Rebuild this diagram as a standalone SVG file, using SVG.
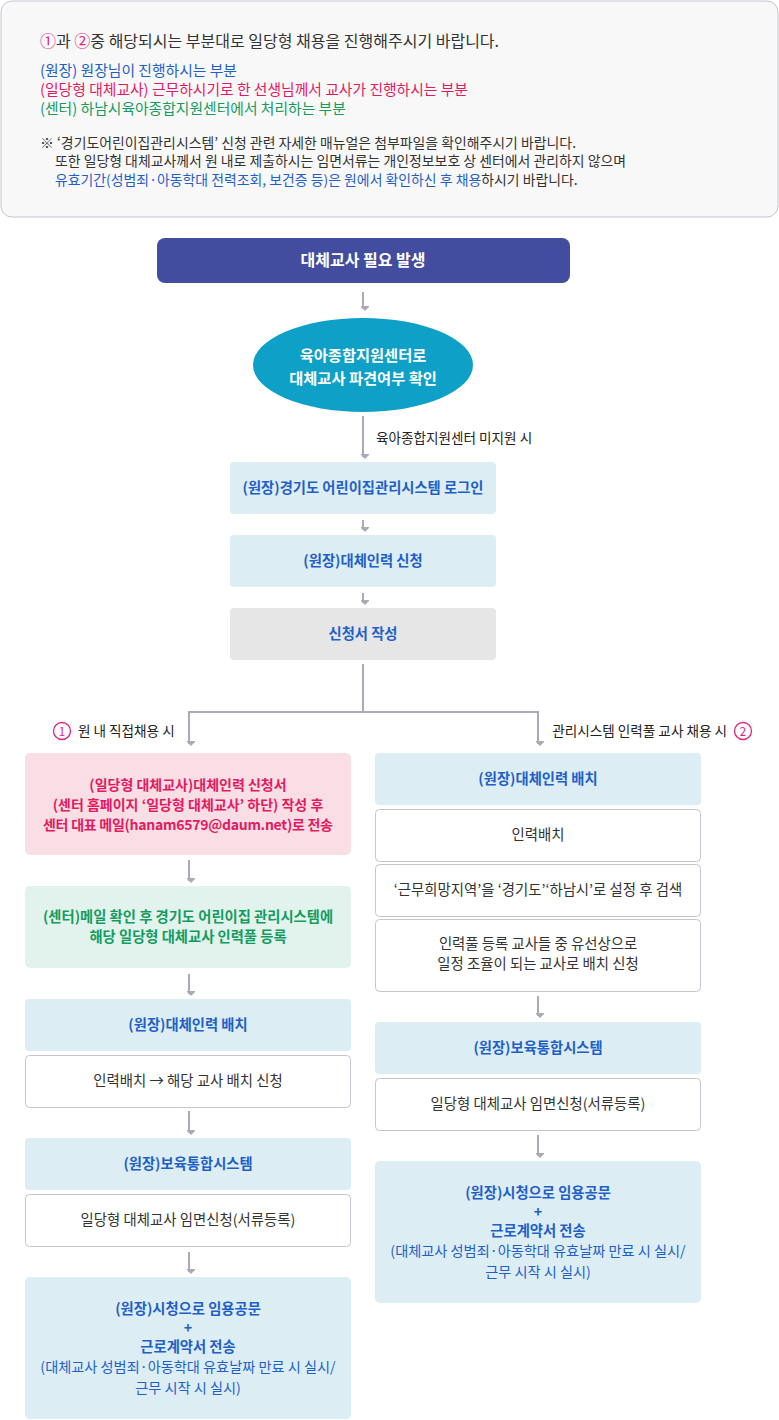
<svg xmlns="http://www.w3.org/2000/svg" width="779" height="1420" viewBox="0 0 779 1420">
<style>
text{font-family:"Noto Sans CJK KR","Noto Sans",sans-serif;}
.c{text-anchor:middle;}
.b{fill:#1f5fc7;font-weight:bold;font-size:14.3px;}
.bn{fill:#1f5fc7;font-size:14.2px;}
.k{fill:#333;font-size:14.4px;}
.lbl{fill:#222;font-size:13.6px;}
.blue{fill:#dcedf4;}
.wbox{fill:#fff;stroke:#c4c6cf;stroke-width:1;}
.con{stroke:#a9abb9;stroke-width:2;fill:none;}
</style>
<defs>
<marker id="ah" markerWidth="10" markerHeight="8" refX="5" refY="6" markerUnits="userSpaceOnUse" orient="auto" viewBox="0 0 10 8">
<path d="M0,1 L10,1 L5,6 Z" fill="#a9abb9" transform="rotate(-90 5 4)"/>
</marker>
</defs>

<g id="notice">
<rect x="1" y="1" width="777" height="216" rx="11" fill="#f8f8f8" stroke="#c4c6cf"/>
<text x="40" y="47" font-size="16" fill="#333"><tspan fill="#e2237d">①</tspan>과 <tspan fill="#e2237d">②</tspan>중 해당되시는 부분대로 일당형 채용을 진행해주시기 바랍니다.</text>
<text x="40" y="76" font-size="14.8" fill="#1f5fc7">(원장) 원장님이 진행하시는 부분</text>
<text x="40" y="95" font-size="14.8" fill="#e5195f">(일당형 대체교사) 근무하시기로 한 선생님께서 교사가 진행하시는 부분</text>
<text x="40" y="114" font-size="14.8" fill="#149b5f">(센터) 하남시육아종합지원센터에서 처리하는 부분</text>
<text x="40" y="148" font-size="13.9" fill="#333">※ ‘경기도어린이집관리시스템’ 신청 관련 자세한 매뉴얼은 첨부파일을 확인해주시기 바랍니다.</text>
<text x="55" y="166" font-size="13.9" fill="#333">또한 일당형 대체교사께서 원 내로 제출하시는 임면서류는 개인정보보호 상 센터에서 관리하지 않으며</text>
<text x="55" y="185" font-size="13.9" fill="#333"><tspan fill="#1f5fc7">유효기간(성범죄·아동학대 전력조회, 보건증 등)은 원에서 확인하신 후 채용</tspan>하시기 바랍니다.</text>
</g>

<g id="connectors">
<line class="con" x1="363" y1="292" x2="363" y2="309" marker-end="url(#ah)"/>
<line class="con" x1="363" y1="416" x2="363" y2="457" marker-end="url(#ah)"/>
<line class="con" x1="363" y1="520" x2="363" y2="530" marker-end="url(#ah)"/>
<line class="con" x1="363" y1="593" x2="363" y2="603" marker-end="url(#ah)"/>
<polyline class="con" points="363,664 363,712 189,712 189,744" marker-end="url(#ah)"/>
<polyline class="con" points="363,712 538,712 538,744" marker-end="url(#ah)"/>
<line class="con" x1="189" y1="860" x2="189" y2="881" marker-end="url(#ah)"/>
<line class="con" x1="189" y1="974" x2="189" y2="994" marker-end="url(#ah)"/>
<line class="con" x1="189" y1="1111" x2="189" y2="1133" marker-end="url(#ah)"/>
<line class="con" x1="189" y1="1252" x2="189" y2="1272" marker-end="url(#ah)"/>
<line class="con" x1="538" y1="996" x2="538" y2="1016" marker-end="url(#ah)"/>
<line class="con" x1="538" y1="1135" x2="538" y2="1156" marker-end="url(#ah)"/>
<text class="lbl" x="376" y="443">육아종합지원센터 미지원 시</text>
<circle cx="62" cy="731" r="8.5" fill="none" stroke="#e2237d" stroke-width="1.3"/>
<text x="62" y="735.5" font-size="11.5" fill="#e2237d" class="c">1</text>
<text class="lbl" x="78" y="736">원 내 직접채용 시</text>
<text class="lbl" x="727" y="736" text-anchor="end">관리시스템 인력풀 교사 채용 시</text>
<circle cx="743" cy="731" r="8.5" fill="none" stroke="#e2237d" stroke-width="1.3"/>
<text x="743" y="735.5" font-size="11.5" fill="#e2237d" class="c">2</text>
</g>

<g id="n-start">
<rect x="157" y="238" width="413" height="45" rx="8" fill="#434d9f"/>
<text x="363" y="266" class="c" font-size="16" font-weight="bold" fill="#fff">대체교사 필요 발생</text>
</g>

<g id="n-check">
<ellipse cx="363" cy="365" rx="110" ry="47" fill="#0ea0c7"/>
<text x="363" y="361" class="c" font-size="15.3" font-weight="bold" fill="#fff">육아종합지원센터로</text>
<text x="363" y="384" class="c" font-size="15.3" font-weight="bold" fill="#fff">대체교사 파견여부 확인</text>
</g>

<g id="n-login">
<rect class="blue" x="230" y="462" width="266" height="52" rx="4"/>
<text class="b c" x="363" y="493">(원장)경기도 어린이집관리시스템 로그인</text>
</g>

<g id="n-apply">
<rect class="blue" x="230" y="535" width="266" height="52" rx="4"/>
<text class="b c" x="363" y="566">(원장)대체인력 신청</text>
</g>

<g id="n-write">
<rect x="230" y="608" width="266" height="52" rx="4" fill="#e6e6e6"/>
<text class="b c" x="363" y="639">신청서 작성</text>
</g>

<g id="n-l1">
<rect x="25" y="753" width="326" height="102" rx="5" fill="#f9dfe5"/>
<text x="188" y="790" class="c" font-size="14" font-weight="bold" fill="#e5195f">(일당형 대체교사)대체인력 신청서</text>
<text x="188" y="810" class="c" font-size="14" font-weight="bold" fill="#e5195f">(센터 홈페이지 ‘일당형 대체교사’ 하단) 작성 후</text>
<text x="188" y="830" class="c" font-size="14" font-weight="bold" fill="#e5195f" textLength="290" lengthAdjust="spacing">센터 대표 메일(hanam6579@daum.net)로 전송</text>
</g>

<g id="n-l2">
<rect x="25" y="886" width="326" height="82" rx="5" fill="#e1f3ec"/>
<text x="188" y="922" class="c" font-size="14.3" font-weight="bold" fill="#149b5f">(센터)메일 확인 후 경기도 어린이집 관리시스템에</text>
<text x="188" y="942" class="c" font-size="14.3" font-weight="bold" fill="#149b5f">해당 일당형 대체교사 인력풀 등록</text>
</g>

<g id="n-l3">
<rect class="blue" x="25" y="999" width="326" height="52" rx="4"/>
<text class="b c" x="188" y="1030">(원장)대체인력 배치</text>
<rect class="wbox" x="25.5" y="1055.5" width="325" height="52" rx="4"/>
<text class="k c" x="188" y="1086">인력배치 → 해당 교사 배치 신청</text>
</g>

<g id="n-l4">
<rect class="blue" x="25" y="1138" width="326" height="52" rx="4"/>
<text class="b c" x="188" y="1169">(원장)보육통합시스템</text>
<rect class="wbox" x="25.5" y="1194.5" width="325" height="52" rx="4"/>
<text class="k c" x="188" y="1225">일당형 대체교사 임면신청(서류등록)</text>
</g>

<g id="n-l5">
<rect class="blue" x="25" y="1277" width="326" height="142" rx="5"/>
<text class="b c" x="188" y="1314">(원장)시청으로 임용공문</text>
<text class="b c" x="188" y="1333">+</text>
<text class="b c" x="188" y="1352">근로계약서 전송</text>
<text class="bn c" x="188" y="1372">(대체교사 성범죄·아동학대 유효날짜 만료 시 실시/</text>
<text class="bn c" x="188" y="1393">근무 시작 시 실시)</text>
</g>

<g id="n-r1">
<rect class="blue" x="375" y="753" width="326" height="52" rx="4"/>
<text class="b c" x="538" y="784">(원장)대체인력 배치</text>
<rect class="wbox" x="375.5" y="809.5" width="325" height="52" rx="4"/>
<text class="k c" x="538" y="840">인력배치</text>
<rect class="wbox" x="375.5" y="864.5" width="325" height="52" rx="4"/>
<text class="k c" x="538" y="895">‘근무희망지역’을 ‘경기도’‘하남시’로 설정 후 검색</text>
<rect class="wbox" x="375.5" y="919.5" width="325" height="72" rx="4"/>
<text class="k c" x="538" y="949">인력풀 등록 교사들 중 유선상으로</text>
<text class="k c" x="538" y="969">일정 조율이 되는 교사로 배치 신청</text>
</g>

<g id="n-r2">
<rect class="blue" x="375" y="1022" width="326" height="52" rx="4"/>
<text class="b c" x="538" y="1053">(원장)보육통합시스템</text>
<rect class="wbox" x="375.5" y="1078.5" width="325" height="52" rx="4"/>
<text class="k c" x="538" y="1109">일당형 대체교사 임면신청(서류등록)</text>
</g>

<g id="n-r3">
<rect class="blue" x="375" y="1161" width="326" height="142" rx="5"/>
<text class="b c" x="538" y="1198">(원장)시청으로 임용공문</text>
<text class="b c" x="538" y="1217">+</text>
<text class="b c" x="538" y="1236">근로계약서 전송</text>
<text class="bn c" x="538" y="1256">(대체교사 성범죄·아동학대 유효날짜 만료 시 실시/</text>
<text class="bn c" x="538" y="1277">근무 시작 시 실시)</text>
</g>
</svg>
